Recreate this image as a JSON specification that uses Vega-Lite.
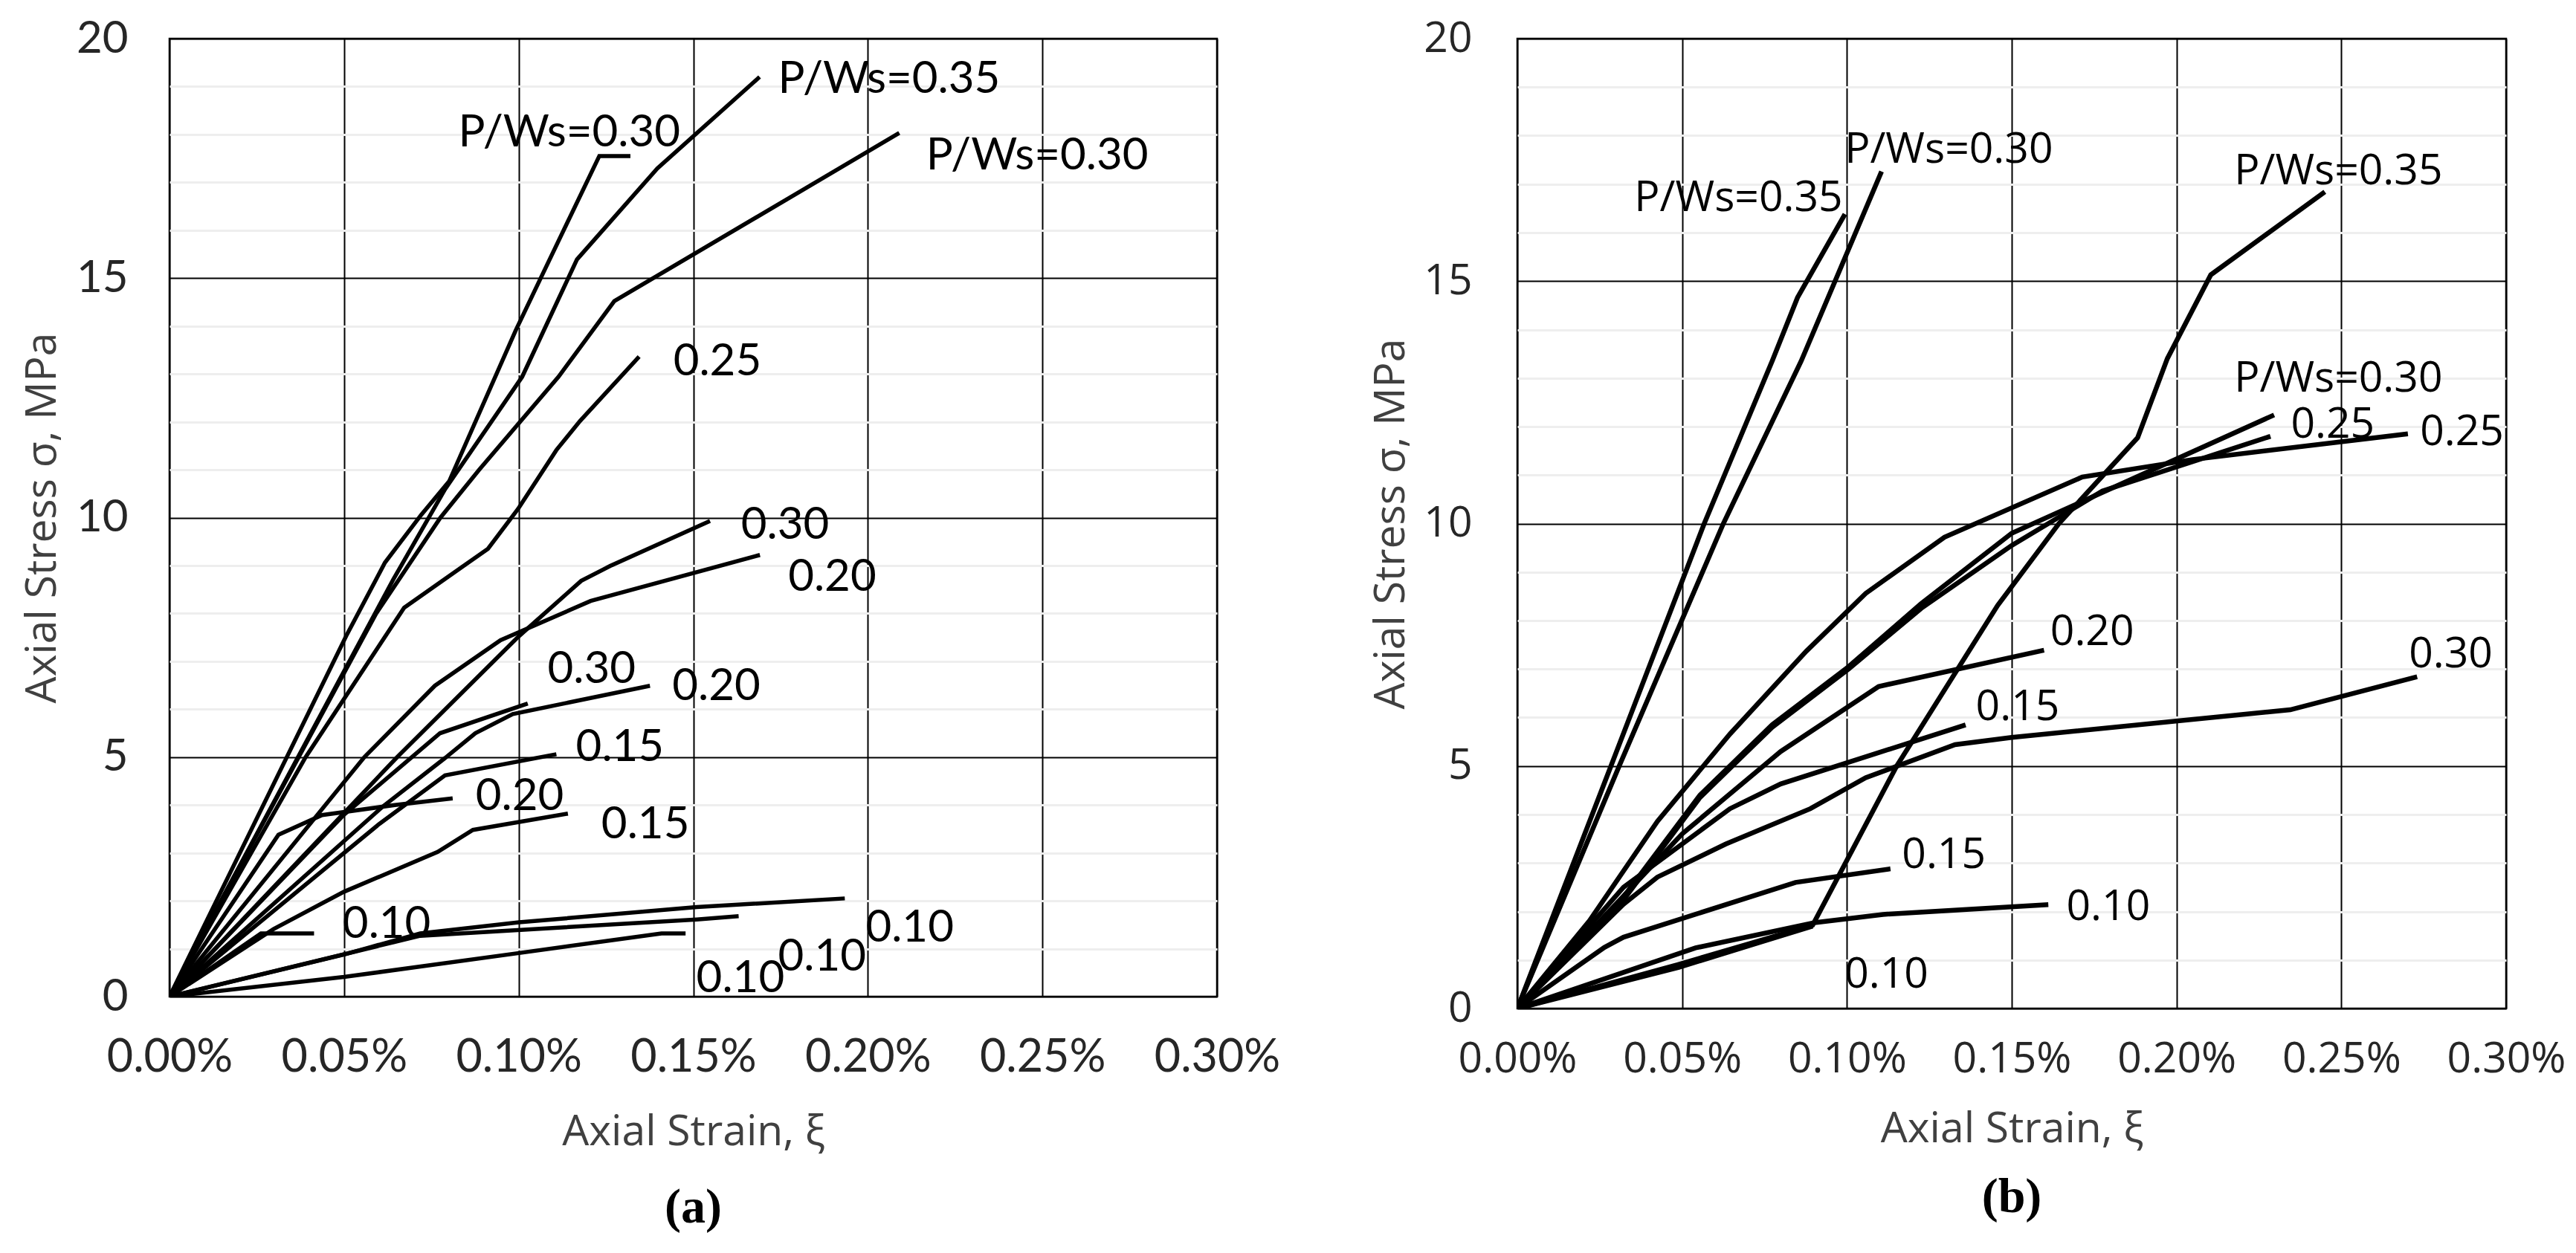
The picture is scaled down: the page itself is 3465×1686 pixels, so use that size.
{
  "$schema": "https://vega.github.io/schema/vega-lite/v6.json",
  "background": "white",
  "padding": {"left": 27, "top": 20, "right": 5, "bottom": 5},
  "spacing": 118,
  "datasets": {
    "curvesA": [
      {"curve": "a1", "i": 0, "strain": 0, "stress": 0},
      {"curve": "a1", "i": 1, "strain": 0.0506, "stress": 7.53},
      {"curve": "a1", "i": 2, "strain": 0.0617, "stress": 9.06},
      {"curve": "a1", "i": 3, "strain": 0.0721, "stress": 10.06},
      {"curve": "a1", "i": 4, "strain": 0.0801, "stress": 10.76},
      {"curve": "a1", "i": 5, "strain": 0.0991, "stress": 13.9},
      {"curve": "a1", "i": 6, "strain": 0.1065, "stress": 15.03},
      {"curve": "a1", "i": 7, "strain": 0.1231, "stress": 17.55},
      {"curve": "a1", "i": 8, "strain": 0.132, "stress": 17.55},
      {"curve": "a2", "i": 0, "strain": 0, "stress": 0},
      {"curve": "a2", "i": 1, "strain": 0.0641, "stress": 8.71},
      {"curve": "a2", "i": 2, "strain": 0.0789, "stress": 10.59},
      {"curve": "a2", "i": 3, "strain": 0.101, "stress": 12.94},
      {"curve": "a2", "i": 4, "strain": 0.1167, "stress": 15.39},
      {"curve": "a2", "i": 5, "strain": 0.1397, "stress": 17.29},
      {"curve": "a2", "i": 6, "strain": 0.169, "stress": 19.2},
      {"curve": "a3", "i": 0, "strain": 0, "stress": 0},
      {"curve": "a3", "i": 1, "strain": 0.0592, "stress": 8.0},
      {"curve": "a3", "i": 2, "strain": 0.0776, "stress": 10.0},
      {"curve": "a3", "i": 3, "strain": 0.0887, "stress": 11.0},
      {"curve": "a3", "i": 4, "strain": 0.1114, "stress": 12.94},
      {"curve": "a3", "i": 5, "strain": 0.1274, "stress": 14.52},
      {"curve": "a3", "i": 6, "strain": 0.209, "stress": 18.03},
      {"curve": "a4", "i": 0, "strain": 0, "stress": 0},
      {"curve": "a4", "i": 1, "strain": 0.039, "stress": 5.0},
      {"curve": "a4", "i": 2, "strain": 0.0672, "stress": 8.12},
      {"curve": "a4", "i": 3, "strain": 0.0912, "stress": 9.35},
      {"curve": "a4", "i": 4, "strain": 0.0998, "stress": 10.18},
      {"curve": "a4", "i": 5, "strain": 0.1108, "stress": 11.41},
      {"curve": "a4", "i": 6, "strain": 0.1176, "stress": 12.02},
      {"curve": "a4", "i": 7, "strain": 0.1345, "stress": 13.36},
      {"curve": "a5", "i": 0, "strain": 0, "stress": 0},
      {"curve": "a5", "i": 1, "strain": 0.0652, "stress": 5.0},
      {"curve": "a5", "i": 2, "strain": 0.1, "stress": 7.52},
      {"curve": "a5", "i": 3, "strain": 0.1179, "stress": 8.68},
      {"curve": "a5", "i": 4, "strain": 0.1262, "stress": 8.99},
      {"curve": "a5", "i": 5, "strain": 0.1548, "stress": 9.93},
      {"curve": "a6", "i": 0, "strain": 0, "stress": 0},
      {"curve": "a6", "i": 1, "strain": 0.0558, "stress": 5.0},
      {"curve": "a6", "i": 2, "strain": 0.076, "stress": 6.49},
      {"curve": "a6", "i": 3, "strain": 0.0948, "stress": 7.44},
      {"curve": "a6", "i": 4, "strain": 0.1206, "stress": 8.26},
      {"curve": "a6", "i": 5, "strain": 0.1691, "stress": 9.22},
      {"curve": "a7", "i": 0, "strain": 0, "stress": 0},
      {"curve": "a7", "i": 1, "strain": 0.05, "stress": 3.8},
      {"curve": "a7", "i": 2, "strain": 0.0775, "stress": 5.5},
      {"curve": "a7", "i": 3, "strain": 0.1026, "stress": 6.12},
      {"curve": "a8", "i": 0, "strain": 0, "stress": 0},
      {"curve": "a8", "i": 1, "strain": 0.0608, "stress": 3.95},
      {"curve": "a8", "i": 2, "strain": 0.0789, "stress": 4.98},
      {"curve": "a8", "i": 3, "strain": 0.0876, "stress": 5.5},
      {"curve": "a8", "i": 4, "strain": 0.0983, "stress": 5.9},
      {"curve": "a8", "i": 5, "strain": 0.1376, "stress": 6.49},
      {"curve": "a9", "i": 0, "strain": 0, "stress": 0},
      {"curve": "a9", "i": 1, "strain": 0.0312, "stress": 3.38},
      {"curve": "a9", "i": 2, "strain": 0.0437, "stress": 3.79},
      {"curve": "a9", "i": 3, "strain": 0.0645, "stress": 4.0},
      {"curve": "a9", "i": 4, "strain": 0.0811, "stress": 4.14},
      {"curve": "a10", "i": 0, "strain": 0, "stress": 0},
      {"curve": "a10", "i": 1, "strain": 0.0298, "stress": 1.41},
      {"curve": "a10", "i": 2, "strain": 0.05, "stress": 2.19},
      {"curve": "a10", "i": 3, "strain": 0.0768, "stress": 3.02},
      {"curve": "a10", "i": 4, "strain": 0.0869, "stress": 3.48},
      {"curve": "a10", "i": 5, "strain": 0.1141, "stress": 3.82},
      {"curve": "a11", "i": 0, "strain": 0, "stress": 0},
      {"curve": "a11", "i": 1, "strain": 0.0262, "stress": 1.32},
      {"curve": "a11", "i": 2, "strain": 0.0414, "stress": 1.32},
      {"curve": "a12", "i": 0, "strain": 0, "stress": 0},
      {"curve": "a12", "i": 1, "strain": 0.05, "stress": 0.88},
      {"curve": "a12", "i": 2, "strain": 0.0718, "stress": 1.32},
      {"curve": "a12", "i": 3, "strain": 0.1001, "stress": 1.55},
      {"curve": "a12", "i": 4, "strain": 0.151, "stress": 1.87},
      {"curve": "a12", "i": 5, "strain": 0.1934, "stress": 2.05},
      {"curve": "a13", "i": 0, "strain": 0, "stress": 0},
      {"curve": "a13", "i": 1, "strain": 0.0718, "stress": 1.27},
      {"curve": "a13", "i": 2, "strain": 0.151, "stress": 1.61},
      {"curve": "a13", "i": 3, "strain": 0.163, "stress": 1.68},
      {"curve": "a14", "i": 0, "strain": 0, "stress": 0},
      {"curve": "a14", "i": 1, "strain": 0.05, "stress": 0.41},
      {"curve": "a14", "i": 2, "strain": 0.1001, "stress": 0.91},
      {"curve": "a14", "i": 3, "strain": 0.1409, "stress": 1.32},
      {"curve": "a14", "i": 4, "strain": 0.1478, "stress": 1.32},
      {"curve": "a15", "i": 0, "strain": 0, "stress": 0},
      {"curve": "a15", "i": 1, "strain": 0.06, "stress": 3.6},
      {"curve": "a15", "i": 2, "strain": 0.0789, "stress": 4.62},
      {"curve": "a15", "i": 3, "strain": 0.1108, "stress": 5.06}
    ],
    "labelsA": [
      {"label": "P/Ws=0.30", "strain": 0.1145, "stress": 18.03},
      {"label": "P/Ws=0.35", "strain": 0.2061, "stress": 19.15},
      {"label": "P/Ws=0.30", "strain": 0.2485, "stress": 17.55},
      {"label": "0.25", "strain": 0.1569, "stress": 13.25},
      {"label": "0.30", "strain": 0.1763, "stress": 9.83},
      {"label": "0.20", "strain": 0.1898, "stress": 8.75},
      {"label": "0.30", "strain": 0.1209, "stress": 6.83},
      {"label": "0.20", "strain": 0.1566, "stress": 6.47},
      {"label": "0.15", "strain": 0.129, "stress": 5.2},
      {"label": "0.20", "strain": 0.1003, "stress": 4.17},
      {"label": "0.15", "strain": 0.1363, "stress": 3.58},
      {"label": "0.10", "strain": 0.0622, "stress": 1.5},
      {"label": "0.10", "strain": 0.212, "stress": 1.42},
      {"label": "0.10", "strain": 0.1869, "stress": 0.83},
      {"label": "0.10", "strain": 0.1635, "stress": 0.38}
    ],
    "curvesB": [
      {"curve": "b1", "i": 0, "strain": 0, "stress": 0},
      {"curve": "b1", "i": 1, "strain": 0.0284, "stress": 5.0},
      {"curve": "b1", "i": 2, "strain": 0.0567, "stress": 10.0},
      {"curve": "b1", "i": 3, "strain": 0.0773, "stress": 13.35},
      {"curve": "b1", "i": 4, "strain": 0.085, "stress": 14.66},
      {"curve": "b1", "i": 5, "strain": 0.0994, "stress": 16.38},
      {"curve": "b2", "i": 0, "strain": 0, "stress": 0},
      {"curve": "b2", "i": 1, "strain": 0.0309, "stress": 5.0},
      {"curve": "b2", "i": 2, "strain": 0.0625, "stress": 10.0},
      {"curve": "b2", "i": 3, "strain": 0.0861, "stress": 13.35},
      {"curve": "b2", "i": 4, "strain": 0.1105, "stress": 17.26},
      {"curve": "b3", "i": 0, "strain": 0, "stress": 0},
      {"curve": "b3", "i": 1, "strain": 0.049, "stress": 0.91},
      {"curve": "b3", "i": 2, "strain": 0.0896, "stress": 1.72},
      {"curve": "b3", "i": 3, "strain": 0.1151, "stress": 5.0},
      {"curve": "b3", "i": 4, "strain": 0.1457, "stress": 8.31},
      {"curve": "b3", "i": 5, "strain": 0.1643, "stress": 10.0},
      {"curve": "b3", "i": 6, "strain": 0.1882, "stress": 11.77},
      {"curve": "b3", "i": 7, "strain": 0.1972, "stress": 13.4},
      {"curve": "b3", "i": 8, "strain": 0.2104, "stress": 15.13},
      {"curve": "b3", "i": 9, "strain": 0.245, "stress": 16.84},
      {"curve": "b4", "i": 0, "strain": 0, "stress": 0},
      {"curve": "b4", "i": 1, "strain": 0.0322, "stress": 2.3},
      {"curve": "b4", "i": 2, "strain": 0.0554, "stress": 4.4},
      {"curve": "b4", "i": 3, "strain": 0.0773, "stress": 5.85},
      {"curve": "b4", "i": 4, "strain": 0.1005, "stress": 7.05},
      {"curve": "b4", "i": 5, "strain": 0.1225, "stress": 8.35},
      {"curve": "b4", "i": 6, "strain": 0.15, "stress": 9.8},
      {"curve": "b4", "i": 7, "strain": 0.2296, "stress": 12.24},
      {"curve": "b5", "i": 0, "strain": 0, "stress": 0},
      {"curve": "b5", "i": 1, "strain": 0.0322, "stress": 2.24},
      {"curve": "b5", "i": 2, "strain": 0.0554, "stress": 4.35},
      {"curve": "b5", "i": 3, "strain": 0.0773, "stress": 5.8},
      {"curve": "b5", "i": 4, "strain": 0.1005, "stress": 7.0},
      {"curve": "b5", "i": 5, "strain": 0.1225, "stress": 8.25},
      {"curve": "b5", "i": 6, "strain": 0.15, "stress": 9.55},
      {"curve": "b5", "i": 7, "strain": 0.1775, "stress": 10.67},
      {"curve": "b5", "i": 8, "strain": 0.2285, "stress": 11.8},
      {"curve": "b6", "i": 0, "strain": 0, "stress": 0},
      {"curve": "b6", "i": 1, "strain": 0.0219, "stress": 1.81},
      {"curve": "b6", "i": 2, "strain": 0.0425, "stress": 3.86},
      {"curve": "b6", "i": 3, "strain": 0.0645, "stress": 5.66},
      {"curve": "b6", "i": 4, "strain": 0.0877, "stress": 7.37},
      {"curve": "b6", "i": 5, "strain": 0.1057, "stress": 8.56},
      {"curve": "b6", "i": 6, "strain": 0.1296, "stress": 9.72},
      {"curve": "b6", "i": 7, "strain": 0.1714, "stress": 10.96},
      {"curve": "b6", "i": 8, "strain": 0.2049, "stress": 11.32},
      {"curve": "b6", "i": 9, "strain": 0.2702, "stress": 11.85},
      {"curve": "b7", "i": 0, "strain": 0, "stress": 0},
      {"curve": "b7", "i": 1, "strain": 0.05, "stress": 3.6},
      {"curve": "b7", "i": 2, "strain": 0.0799, "stress": 5.3},
      {"curve": "b7", "i": 3, "strain": 0.1096, "stress": 6.64},
      {"curve": "b7", "i": 4, "strain": 0.1598, "stress": 7.39},
      {"curve": "b8", "i": 0, "strain": 0, "stress": 0},
      {"curve": "b8", "i": 1, "strain": 0.0322, "stress": 2.5},
      {"curve": "b8", "i": 2, "strain": 0.0645, "stress": 4.12},
      {"curve": "b8", "i": 3, "strain": 0.0799, "stress": 4.63},
      {"curve": "b8", "i": 4, "strain": 0.136, "stress": 5.85},
      {"curve": "b9", "i": 0, "strain": 0, "stress": 0},
      {"curve": "b9", "i": 1, "strain": 0.0322, "stress": 2.15},
      {"curve": "b9", "i": 2, "strain": 0.0425, "stress": 2.71},
      {"curve": "b9", "i": 3, "strain": 0.0632, "stress": 3.39},
      {"curve": "b9", "i": 4, "strain": 0.0889, "stress": 4.12},
      {"curve": "b9", "i": 5, "strain": 0.1057, "stress": 4.76},
      {"curve": "b9", "i": 6, "strain": 0.1328, "stress": 5.44},
      {"curve": "b9", "i": 7, "strain": 0.15, "stress": 5.59},
      {"curve": "b9", "i": 8, "strain": 0.2345, "stress": 6.16},
      {"curve": "b9", "i": 9, "strain": 0.273, "stress": 6.84},
      {"curve": "b10", "i": 0, "strain": 0, "stress": 0},
      {"curve": "b10", "i": 1, "strain": 0.0264, "stress": 1.26},
      {"curve": "b10", "i": 2, "strain": 0.0322, "stress": 1.47},
      {"curve": "b10", "i": 3, "strain": 0.0844, "stress": 2.6},
      {"curve": "b10", "i": 4, "strain": 0.1132, "stress": 2.88},
      {"curve": "b11", "i": 0, "strain": 0, "stress": 0},
      {"curve": "b11", "i": 1, "strain": 0.0541, "stress": 1.25},
      {"curve": "b11", "i": 2, "strain": 0.0902, "stress": 1.77},
      {"curve": "b11", "i": 3, "strain": 0.1109, "stress": 1.94},
      {"curve": "b11", "i": 4, "strain": 0.1611, "stress": 2.14},
      {"curve": "b12", "i": 0, "strain": 0, "stress": 0},
      {"curve": "b12", "i": 1, "strain": 0.049, "stress": 0.85},
      {"curve": "b12", "i": 2, "strain": 0.0896, "stress": 1.7}
    ],
    "labelsB": [
      {"label": "P/Ws=0.35", "strain": 0.0671, "stress": 16.71},
      {"label": "P/Ws=0.30", "strain": 0.1309, "stress": 17.7},
      {"label": "P/Ws=0.35", "strain": 0.2491, "stress": 17.26},
      {"label": "P/Ws=0.30", "strain": 0.2491, "stress": 12.98},
      {"label": "0.25", "strain": 0.2474, "stress": 12.03},
      {"label": "0.25", "strain": 0.2866, "stress": 11.87},
      {"label": "0.20", "strain": 0.1744, "stress": 7.76},
      {"label": "0.30", "strain": 0.2832, "stress": 7.3},
      {"label": "0.15", "strain": 0.1518, "stress": 6.2},
      {"label": "0.15", "strain": 0.1294, "stress": 3.16},
      {"label": "0.10", "strain": 0.1793, "stress": 2.09},
      {"label": "0.10", "strain": 0.112, "stress": 0.69}
    ]
  },
  "hconcat": [
    {
      "width": 1409,
      "height": 1289,
      "title": {"text": "(a)", "orient": "bottom", "font": "Liberation Serif", "fontSize": 66, "fontWeight": "bold", "color": "#000000", "offset": 42},
      "encoding": {
        "x": {
          "field": "strain", "type": "quantitative",
          "scale": {"domain": [0, 0.3], "nice": false},
          "axis": {
            "values": [0, 0.05, 0.1, 0.15, 0.2, 0.25, 0.3],
            "labelExpr": "format(datum.value, '.2f') + '%'",
            "title": "Axial Strain, ξ",
            "grid": true, "gridColor": "#000000", "gridWidth": 2,
            "domain": false, "ticks": false,
            "labelFlush": false, "labelOverlap": false, "labelBound": false,
            "labelPadding": 52, "labelFont": "Lato", "labelFontSize": 61, "labelColor": "#262626",
            "titleFont": "Open Sans", "titleFontSize": 57, "titleFontWeight": "normal", "titleColor": "#404040", "titlePadding": 42
          }
        },
        "y": {
          "field": "stress", "type": "quantitative",
          "scale": {"domain": [0, 20], "nice": false},
          "axis": {
            "values": [0, 1, 2, 3, 4, 5, 6, 7, 8, 9, 10, 11, 12, 13, 14, 15, 16, 17, 18, 19, 20],
            "labelExpr": "datum.value % 5 === 0 ? datum.label : ''",
            "title": "Axial Stress σ, MPa",
            "grid": true,
            "gridColor": {"condition": {"test": "datum.value % 5 === 0", "value": "#000000"}, "value": "#eeeeee"},
            "gridWidth": {"condition": {"test": "datum.value % 5 === 0", "value": 2}, "value": 3},
            "domain": false, "ticks": false,
            "labelPadding": 56, "labelFont": "Lato", "labelFontSize": 60, "labelColor": "#262626",
            "titleFont": "Open Sans", "titleFontSize": 57, "titleFontWeight": "normal", "titleColor": "#404040", "titlePadding": 16
          }
        }
      },
      "layer": [
        {
          "data": {"name": "curvesA"},
          "mark": {"type": "line", "color": "#000000", "strokeWidth": 5.5, "clip": true},
          "encoding": {"detail": {"field": "curve"}, "order": {"field": "i", "type": "quantitative"}}
        },
        {
          "data": {"name": "labelsA"},
          "mark": {"type": "text", "font": "Lato", "fontSize": 60, "color": "#000000", "align": "center", "baseline": "middle"},
          "encoding": {"text": {"field": "label"}}
        }
      ]
    },
    {
      "width": 1330,
      "height": 1305,
      "title": {"text": "(b)", "orient": "bottom", "font": "Liberation Serif", "fontSize": 66, "fontWeight": "bold", "color": "#000000", "offset": 32},
      "encoding": {
        "x": {
          "field": "strain", "type": "quantitative",
          "scale": {"domain": [0, 0.3], "nice": false},
          "axis": {
            "values": [0, 0.05, 0.1, 0.15, 0.2, 0.25, 0.3],
            "labelExpr": "format(datum.value, '.2f') + '%'",
            "title": "Axial Strain, ξ",
            "grid": true, "gridColor": "#000000", "gridWidth": 2,
            "domain": false, "ticks": false,
            "labelFlush": false, "labelOverlap": false, "labelBound": false,
            "labelPadding": 40, "labelFont": "Open Sans", "labelFontSize": 57, "labelColor": "#262626",
            "titleFont": "Open Sans", "titleFontSize": 57, "titleFontWeight": "normal", "titleColor": "#404040", "titlePadding": 38
          }
        },
        "y": {
          "field": "stress", "type": "quantitative",
          "scale": {"domain": [0, 20], "nice": false},
          "axis": {
            "values": [0, 1, 2, 3, 4, 5, 6, 7, 8, 9, 10, 11, 12, 13, 14, 15, 16, 17, 18, 19, 20],
            "labelExpr": "datum.value % 5 === 0 ? datum.label : ''",
            "title": "Axial Stress σ, MPa",
            "grid": true,
            "gridColor": {"condition": {"test": "datum.value % 5 === 0", "value": "#000000"}, "value": "#eeeeee"},
            "gridWidth": {"condition": {"test": "datum.value % 5 === 0", "value": 2}, "value": 3},
            "domain": false, "ticks": false,
            "labelPadding": 61, "labelFont": "Open Sans", "labelFontSize": 57, "labelColor": "#262626",
            "titleFont": "Open Sans", "titleFontSize": 57, "titleFontWeight": "normal", "titleColor": "#404040", "titlePadding": 14
          }
        }
      },
      "layer": [
        {
          "data": {"name": "curvesB"},
          "mark": {"type": "line", "color": "#000000", "strokeWidth": 6.5, "clip": true},
          "encoding": {"detail": {"field": "curve"}, "order": {"field": "i", "type": "quantitative"}}
        },
        {
          "data": {"name": "labelsB"},
          "mark": {"type": "text", "font": "Open Sans", "fontSize": 57, "color": "#000000", "align": "center", "baseline": "middle"},
          "encoding": {"text": {"field": "label"}}
        }
      ]
    }
  ],
  "config": {
    "view": {"stroke": "#000000", "strokeWidth": 2.5},
    "line": {"strokeJoin": "miter", "strokeCap": "butt"}
  }
}
